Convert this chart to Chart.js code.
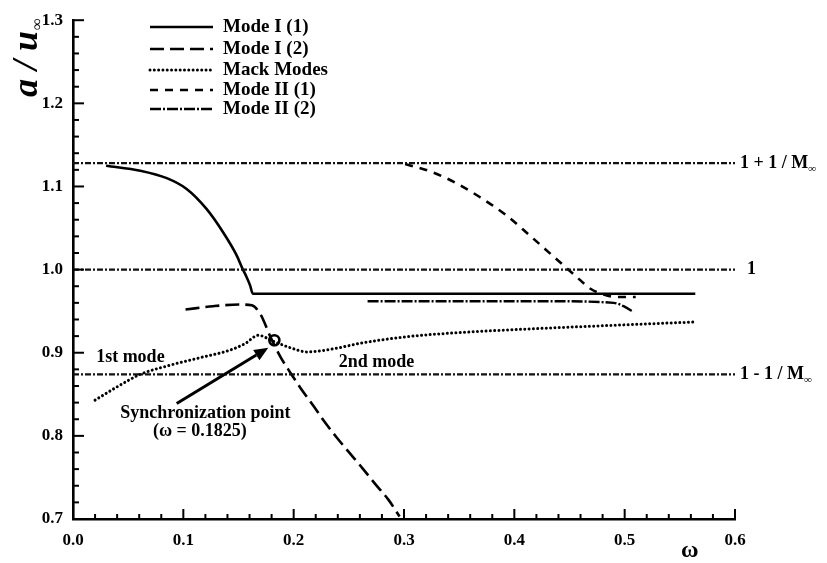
<!DOCTYPE html>
<html><head><meta charset="utf-8">
<script src="https://cdn.jsdelivr.net/npm/chart.js@4/dist/chart.umd.min.js"></script>
<style>html,body{margin:0;padding:0;background:#fff;}canvas{display:block;}</style>
</head><body>
<canvas id="c" width="827" height="563"></canvas>
<script>
// ---- data ----
const xTicks = [0.0, 0.1, 0.2, 0.3, 0.4, 0.5, 0.6];
const yTicks = [0.7, 0.8, 0.9, 1.0, 1.1, 1.2, 1.3];

const modeI1W = [0.030, 0.061, 0.085, 0.103, 0.121, 0.136, 0.148, 0.154, 0.157, 0.1605, 0.163, 0.300, 0.450, 0.564];
const modeI1V = [1.125, 1.119, 1.110, 1.097, 1.073, 1.045, 1.018, 1.000, 0.992, 0.981, 0.971, 0.971, 0.971, 0.971];

const modeI2W = [0.102, 0.127, 0.151, 0.162, 0.170, 0.179, 0.188, 0.197, 0.206, 0.218, 0.228, 0.239, 0.251, 0.263, 0.274, 0.286, 0.296];
const modeI2V = [0.952, 0.956, 0.958, 0.957, 0.946, 0.919, 0.895, 0.876, 0.858, 0.836, 0.817, 0.798, 0.779, 0.760, 0.742, 0.723, 0.703];

const mackW = [0.020, 0.040, 0.061, 0.088, 0.115, 0.142, 0.156, 0.168, 0.181, 0.197, 0.212, 0.233, 0.263, 0.308, 0.360, 0.420, 0.490, 0.564];
const mackV = [0.843, 0.859, 0.874, 0.885, 0.894, 0.903, 0.911, 0.921, 0.914, 0.906, 0.901, 0.904, 0.912, 0.920, 0.925, 0.929, 0.933, 0.937];

const modeII1W = [0.301, 0.324, 0.346, 0.369, 0.392, 0.414, 0.437, 0.455, 0.469, 0.481, 0.493, 0.510];
const modeII1V = [1.127, 1.118, 1.105, 1.087, 1.066, 1.041, 1.014, 0.993, 0.977, 0.970, 0.967, 0.967];

const modeII2W = [0.267, 0.350, 0.430, 0.490, 0.499, 0.508];
const modeII2V = [0.962, 0.962, 0.962, 0.960, 0.956, 0.949];

const refW = [0.0, 0.6];
const refLevels = [1.128, 1.0, 0.874];
const refLabels = ['1 + 1 / M', '1', '1 - 1 / M'];
const refSub = ['\u221E', '', '\u221E'];

const syncW = [0.1825];
const syncV = [0.915];

const seriesNames = ['Mode I (1)', 'Mode I (2)', 'Mack Modes', 'Mode II (1)', 'Mode II (2)'];

// ---- styles ----
const SERIF = '"Liberation Serif", "DejaVu Serif", serif';
const styles = [
  {dash: [], width: 2.6, cap: 'butt'},
  {dash: [14, 6], width: 2.6, cap: 'butt'},
  {dash: [0.01, 4.3], width: 3, cap: 'round'},
  {dash: [8, 7], width: 2.6, cap: 'butt'},
  {dash: [11, 2, 2, 2], width: 2.4, cap: 'butt'}
];
const refStyle = {dash: [6, 2, 2, 2], width: 2.2};

const pts = (w, v) => w.map((x, i) => ({x: x, y: v[i]}));
const seriesData = [pts(modeI1W, modeI1V), pts(modeI2W, modeI2V), pts(mackW, mackV), pts(modeII1W, modeII1V), pts(modeII2W, modeII2V)];

const datasets = [];
refLevels.forEach((lv) => {
  datasets.push({
    label: 'ref', data: refW.map(x => ({x: x, y: lv})),
    borderColor: '#111', borderWidth: refStyle.width, borderDash: refStyle.dash,
    pointRadius: 0, fill: false, tension: 0
  });
});
seriesData.forEach((d, i) => {
  datasets.push({
    label: seriesNames[i], data: d,
    borderColor: '#000', borderWidth: styles[i].width, borderDash: styles[i].dash,
    borderCapStyle: styles[i].cap, borderJoinStyle: 'round',
    pointRadius: 0, fill: false, cubicInterpolationMode: 'monotone'
  });
});
datasets.push({
  label: 'sync', data: pts(syncW, syncV), showLine: false,
  pointRadius: 5, pointBorderWidth: 2.6, pointBorderColor: '#000', pointBackgroundColor: '#fff'
});

const notes = [
  {text: '1st mode', x: 0.052, y: 0.895},
  {text: '2nd mode', x: 0.275, y: 0.888},
  {text: 'Synchronization point', x: 0.120, y: 0.827},
  {text: '(\u03C9 = 0.1825)', x: 0.115, y: 0.806}
];
const arrow = {x0: 0.094, y0: 0.839, x1: 0.177, y1: 0.906};

const decor = {
  id: 'decor',
  afterDraw(chart) {
    const ctx = chart.ctx;
    const xs = chart.scales.x, ys = chart.scales.y;
    const area = chart.chartArea;
    ctx.save();
    ctx.strokeStyle = '#000';
    ctx.fillStyle = '#000';
    // inward ticks
    ctx.lineWidth = 2;
    for (let k = 0; k <= 30; k++) {
      const v = k * 0.02;
      const px = xs.getPixelForValue(v);
      const major = k % 5 === 0;
      const len = major ? 10 : 5;
      ctx.beginPath(); ctx.moveTo(px, area.bottom); ctx.lineTo(px, area.bottom - len); ctx.stroke();
    }
    for (let k = 0; k <= 30; k++) {
      const v = 0.7 + k * 0.02;
      const py = ys.getPixelForValue(v);
      const major = k % 5 === 0;
      const len = major ? 11 : 6;
      ctx.beginPath(); ctx.moveTo(area.left, py); ctx.lineTo(area.left + len, py); ctx.stroke();
    }
    // reference labels
    ctx.textBaseline = 'middle';
    ctx.textAlign = 'left';
    refLevels.forEach((lv, i) => {
      const py = ys.getPixelForValue(lv);
      const x0 = refLabels[i] === '1' ? area.right + 12 : area.right + 5;
      ctx.font = 'bold 18px ' + SERIF;
      ctx.fillText(refLabels[i], x0, py);
      if (refSub[i]) {
        const w = ctx.measureText(refLabels[i]).width;
        ctx.font = 'bold 11px ' + SERIF;
        ctx.fillText(refSub[i], x0 + w, py + 6);
      }
    });
    // annotations
    ctx.font = 'bold 18px ' + SERIF;
    ctx.textAlign = 'center';
    notes.forEach(n => {
      ctx.fillText(n.text, xs.getPixelForValue(n.x), ys.getPixelForValue(n.y));
    });
    // arrow
    const ax0 = xs.getPixelForValue(arrow.x0), ay0 = ys.getPixelForValue(arrow.y0);
    const ax1 = xs.getPixelForValue(arrow.x1), ay1 = ys.getPixelForValue(arrow.y1);
    const ang = Math.atan2(ay1 - ay0, ax1 - ax0);
    const hl = 14, hw = 6;
    const bx = ax1 - hl * Math.cos(ang), by = ay1 - hl * Math.sin(ang);
    ctx.lineWidth = 3;
    ctx.beginPath(); ctx.moveTo(ax0, ay0); ctx.lineTo(bx, by); ctx.stroke();
    ctx.beginPath();
    ctx.moveTo(ax1, ay1);
    ctx.lineTo(bx + hw * Math.sin(ang), by - hw * Math.cos(ang));
    ctx.lineTo(bx - hw * Math.sin(ang), by + hw * Math.cos(ang));
    ctx.closePath(); ctx.fill();
    // legend
    const lgX0 = 150, lgX1 = 213, lgT = 223, lgY = [27, 49, 70, 90, 109];
    seriesNames.forEach((name, i) => {
      ctx.lineWidth = styles[i].width;
      ctx.setLineDash(styles[i].dash);
      ctx.lineCap = styles[i].cap;
      ctx.beginPath(); ctx.moveTo(lgX0, lgY[i]); ctx.lineTo(lgX1, lgY[i]); ctx.stroke();
      ctx.setLineDash([]);
      ctx.lineCap = 'butt';
      ctx.font = 'bold 19px ' + SERIF;
      ctx.textAlign = 'left';
      ctx.textBaseline = 'middle';
      ctx.fillText(name, lgT, lgY[i]);
    });
    // y title (rotated)
    ctx.save();
    ctx.translate(37, 97);
    ctx.rotate(-Math.PI / 2);
    ctx.textAlign = 'left';
    ctx.textBaseline = 'alphabetic';
    ctx.font = 'bold italic 36px ' + SERIF;
    ctx.fillText('a / u', 0, 0);
    const tw = ctx.measureText('a / u').width;
    ctx.font = 'bold 16px ' + SERIF;
    ctx.fillText('\u221E', tw + 1, 5);
    ctx.restore();
    // x title
    ctx.font = 'bold 24px ' + SERIF;
    ctx.textAlign = 'center';
    ctx.textBaseline = 'middle';
    ctx.fillText('\u03C9', xs.getPixelForValue(0.559), 551);
    ctx.restore();
  }
};

new Chart(document.getElementById('c'), {
  type: 'line',
  data: {datasets: datasets},
  options: {
    responsive: false,
    animation: false,
    events: [],
    layout: {padding: {left: 0, right: 92, top: 17, bottom: 0}},
    plugins: {legend: {display: false}, tooltip: {enabled: false}},
    scales: {
      x: {
        type: 'linear', min: 0, max: 0.6,
        afterFit(s) { s.height = 44; },
        afterBuildTicks(s) { s.ticks = xTicks.map(v => ({value: v})); },
        grid: {display: false, drawTicks: false},
        border: {display: true, width: 2.6, color: '#000'},
        ticks: {padding: 11, color: '#000', font: {family: SERIF, size: 17, weight: 'bold'},
                callback: v => Number(v).toFixed(1), maxRotation: 0, autoSkip: false}
      },
      y: {
        type: 'linear', min: 0.7, max: 1.3,
        afterFit(s) { s.width = 73; },
        afterBuildTicks(s) { s.ticks = yTicks.map(v => ({value: v})); },
        grid: {display: false, drawTicks: false},
        border: {display: true, width: 2.6, color: '#000'},
        ticks: {padding: 10, color: '#000', font: {family: SERIF, size: 17, weight: 'bold'},
                callback: v => Number(v).toFixed(1), autoSkip: false}
      }
    }
  },
  plugins: [decor]
});
</script>
</body></html>
